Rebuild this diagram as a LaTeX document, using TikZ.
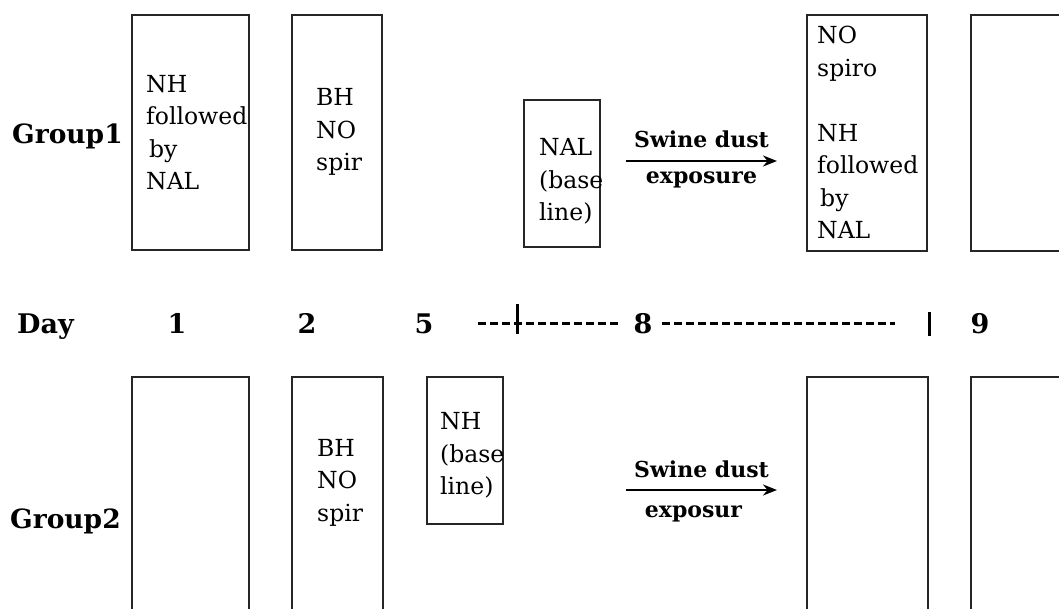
\documentclass[tikz,border=0pt]{standalone}
\usepackage{fontspec}
\setmainfont{DejaVu Serif}
\usetikzlibrary{arrows.meta,positioning}
\tikzset{
  stage/.style={rectangle,draw=black!85,line width=1.7pt,anchor=north west,
    inner sep=0pt},
  note/.style={align=left,inner sep=0pt,font=\fontsize{23.5}{32.5}\selectfont},
  grouplabel/.style={inner sep=0pt,anchor=base west,
    font=\bfseries\fontsize{26.5}{30}\selectfont},
  daylabel/.style={inner sep=0pt,anchor=base,
    font=\bfseries\fontsize{27}{30}\selectfont},
  dustarrow/.style={-{Stealth[length=14pt,width=11pt]},line width=2.2pt},
  armlabel/.style={inner sep=0pt,font=\bfseries\fontsize{22}{24}\selectfont},
  dashrule/.style={line width=3pt,dash pattern=on 8pt off 4pt},
  tickmark/.style={line width=3pt}
}
\begin{document}
\begin{tikzpicture}[x=1pt,y=-1pt]
  \useasboundingbox (0,0) rectangle (1059,608);
  \clip (0,0) rectangle (1059,608);

  % group 1
  \node[grouplabel] (g1) at (12,143) {Group1};
  \node[stage,minimum width=117pt,minimum height=235pt] (g1a) at (131,14) {};
  \node[stage,minimum width=90pt,minimum height=235pt] (g1b) at (291,14) {};
  \node[stage,minimum width=76pt,minimum height=147pt] (g1c) at (523,99) {};
  \node[stage,minimum width=120pt,minimum height=236pt] (g1d) at (806,14) {};
  \node[stage,minimum width=120pt,minimum height=236pt] (g1e) at (970,14) {};

  \node[note,right=15pt of g1a.west] (g1atext)
    {NH\\followed\\\hspace*{3pt}by\\NAL};
  \node[note,right=25pt of g1b.west] (g1btext) {BH\\NO\\spir};
  \node[note,right=16pt of g1c.west,yshift=-8pt] (g1ctext)
    {NAL\\(base\\line)};
  \node[note,right=11pt of g1d.west] (g1dtext)
    {NO\\spiro\\[32.5pt]NH\\followed\\\hspace*{3pt}by\\NAL};

  \coordinate (g1from) at (626,161);
  \coordinate (g1to) at (777,161);
  \draw[dustarrow] (g1from) -- node[armlabel,above=12pt]{Swine dust}
    node[armlabel,below=10pt]{exposure} (g1to);

  % day line
  \node[daylabel,anchor=base west] (day) at (17,333) {Day};
  \node[daylabel] (d1) at (177,333) {1};
  \node[daylabel] (d2) at (307,333) {2};
  \node[daylabel] (d5) at (424,333) {5};
  \node[daylabel] (d8) at (643,333) {8};
  \node[daylabel] (d9) at (980,333) {9};
  \coordinate (s5) at (478,323);
  \coordinate (e8) at (618,323);
  \coordinate (s8) at (662,323);
  \coordinate (e9) at (895,323);
  \draw[dashrule] (s5) -- (e8);
  \draw[dashrule] (s8) -- (e9);
  \coordinate (t1) at (517,304);
  \coordinate (t2) at (517,334);
  \draw[tickmark] (t1) -- (t2);
  \coordinate (t3) at (929,312);
  \coordinate (t4) at (929,336);
  \draw[tickmark] (t3) -- (t4);

  % group 2
  \node[grouplabel] (g2) at (10,528) {Group2};
  \node[stage,minimum width=117pt,minimum height=260pt] (g2a) at (131,376) {};
  \node[stage,minimum width=91pt,minimum height=260pt] (g2b) at (291,376) {};
  \node[stage,minimum width=76pt,minimum height=147pt] (g2c) at (426,376) {};
  \node[stage,minimum width=121pt,minimum height=260pt] (g2d) at (806,376) {};
  \node[stage,minimum width=120pt,minimum height=260pt] (g2e) at (970,376) {};

  \node[note,right=26pt of g2b.west,yshift=24pt] (g2btext) {BH\\NO\\spir};
  \node[note,right=14pt of g2c.west,yshift=-5pt] (g2ctext)
    {NH\\(base\\line)};

  \coordinate (g2from) at (626,490);
  \coordinate (g2to) at (777,490);
  \draw[dustarrow] (g2from) -- node[armlabel,above=11pt]{Swine dust}
    node[armlabel,below=15pt,xshift=-8pt]{exposur} (g2to);
\end{tikzpicture}
\end{document}
